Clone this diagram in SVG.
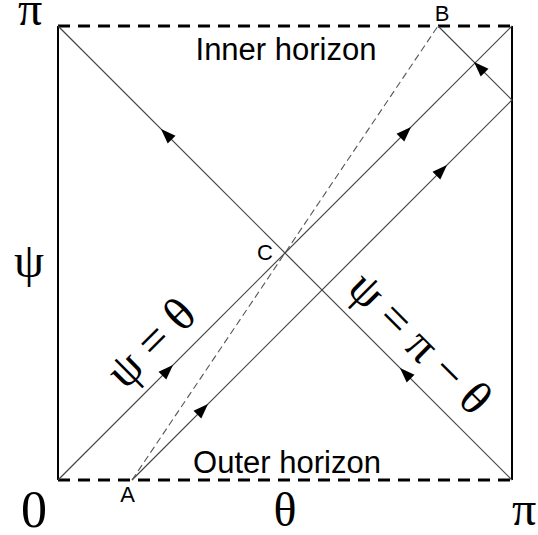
<svg xmlns="http://www.w3.org/2000/svg" width="538" height="535" viewBox="0 0 538 535">
<style>
.border{stroke:#000;stroke-width:2;fill:none}
.horizon{stroke:#000;stroke-width:3;stroke-dasharray:12,8;fill:none}
.ray{stroke:#444;stroke-width:1.2;fill:none}
.dray{stroke:#555;stroke-width:1.1;stroke-dasharray:7,4;fill:none}
.ax{font-family:"Liberation Serif","Times New Roman",serif;font-size:48px;fill:#000;text-anchor:middle}
.lbl{font-family:"Liberation Sans",Arial,sans-serif;fill:#000;text-anchor:middle}
.big{font-size:31px}
.pt{font-size:22px}
</style>
<defs>
<path id="ah" d="M0,0 L-15,-5.5 L-15,5.5 Z" fill="#000"/>
</defs>
<rect width="538" height="535" fill="#fff"/>
<g id="frame">
<line class="border" x1="58" y1="26" x2="58" y2="480"/>
<line class="border" x1="512" y1="26" x2="512" y2="480"/>
<line class="horizon" x1="58" y1="26" x2="512" y2="26"/>
<line class="horizon" x1="58" y1="480" x2="512" y2="480"/>
</g>
<g id="connectors">
<line class="ray" x1="58" y1="26" x2="512" y2="480"/>
<line class="ray" x1="58" y1="480" x2="512" y2="26"/>
<polyline class="ray" points="132,480 512,100 438,26"/>
<line class="dray" x1="132" y1="480" x2="438" y2="26"/>
<use href="#ah" transform="translate(161,129) rotate(-135)"/>
<use href="#ah" transform="translate(400,368) rotate(-135)"/>
<use href="#ah" transform="translate(173,365) rotate(-45)"/>
<use href="#ah" transform="translate(411,127) rotate(-45)"/>
<use href="#ah" transform="translate(208,404) rotate(-45)"/>
<use href="#ah" transform="translate(447,165) rotate(-45)"/>
<use href="#ah" transform="translate(474,62) rotate(-135)"/>
</g>
<g id="axis-labels">
<text class="ax" x="30" y="25">π</text>
<text class="ax" x="29" y="277">ψ</text>
<text class="ax" x="34" y="527" style="font-size:52px">0</text>
<text class="ax" x="285" y="526">θ</text>
<text class="ax" x="524" y="525">π</text>
</g>
<g id="inner-horizon"><text class="lbl big" x="286" y="60">Inner horizon</text></g>
<g id="outer-horizon"><text class="lbl big" x="287" y="473">Outer horizon</text></g>
<g id="point-A"><text class="lbl pt" x="127.5" y="502">A</text></g>
<g id="point-B"><text class="lbl pt" x="442" y="21">B</text></g>
<g id="point-C"><text class="lbl pt" x="265" y="260">C</text></g>
<g id="line-psi-theta"><text class="ax" transform="translate(162,354) rotate(-45)">ψ = θ</text></g>
<g id="line-psi-pi-theta"><text class="ax" transform="translate(409,354) rotate(45)">ψ = π − θ</text></g>
</svg>
